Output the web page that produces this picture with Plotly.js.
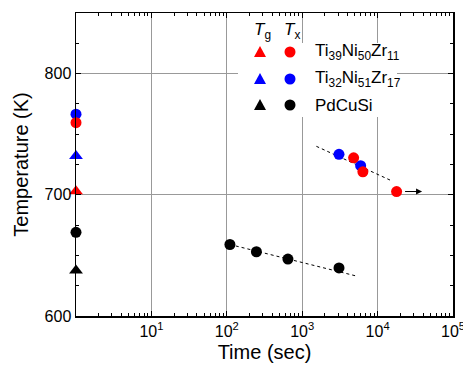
<!DOCTYPE html>
<html>
<head>
<meta charset="utf-8">
<script src="https://cdn.plot.ly/plotly-3.0.1.min.js"></script>
<style>html,body{margin:0;padding:0;background:#fff;}#chart{width:463px;height:368px;}</style>
</head>
<body>
<div id="chart"></div>
<script>
// ---- data ----
var tgTime = [1];
var ti39Tg = [703];
var ti32Tg = [732];
var pdTg = [637.5];

var ti39TxTime = [1, 4810, 6380, 17860];
var ti39Tx = [759.5, 730.5, 719, 702.7];
var ti32TxTime = [1, 3076, 5960];
var ti32Tx = [766.5, 733.4, 724];
var pdTxTime = [1, 110, 247, 647, 3076];
var pdTx = [669, 659, 653, 647, 639.7];

var tiFitTime = [1542, 15180];
var tiFitTemp = [740, 711.7];
var pdFitTime = [110, 5220];
var pdFitTemp = [659, 633];

var arrowFrom = [22100, 702.7];
var arrowTo = [38900, 702.7];

var xTickVals = [10, 100, 1000, 10000, 100000];
var xTickText = ['10<sup>1</sup>', '10<sup>2</sup>', '10<sup>3</sup>', '10<sup>4</sup>', '10<sup>5</sup>'];
var xMinorVals = [2,3,4,5,6,7,8,9, 20,30,40,50,60,70,80,90, 200,300,400,500,600,700,800,900,
  2000,3000,4000,5000,6000,7000,8000,9000, 20000,30000,40000,50000,60000,70000,80000,90000];
var yTickVals = [600, 700, 800];
var yMinorVals = [625, 650, 675, 725, 750, 775, 825];
var legendLabels = ['Ti<sub>39</sub>Ni<sub>50</sub>Zr<sub>11</sub>', 'Ti<sub>32</sub>Ni<sub>51</sub>Zr<sub>17</sub>', 'PdCuSi'];
var colors = ['#ff0000', '#0000ff', '#000000'];

var FONT = 'Liberation Sans, Arial, sans-serif';
var MS = 11;

function pts(x, y, sym, col) {
  return {x: x, y: y, mode: 'markers', type: 'scatter', cliponaxis: false, showlegend: false,
    marker: {symbol: sym, size: sym === 'triangle-up' ? MS + 1 : MS, color: col, line: {width: 0}}};
}
function fit(x, y) {
  return {x: x, y: y, mode: 'lines', type: 'scatter', showlegend: false,
    line: {color: '#000', width: 1, dash: 'dot'}};
}

var traces = [
  fit(tiFitTime, tiFitTemp),
  fit(pdFitTime, pdFitTemp),
  pts(tgTime, ti39Tg, 'triangle-up', colors[0]),
  pts(tgTime, ti32Tg, 'triangle-up', colors[1]),
  pts(tgTime, pdTg, 'triangle-up', colors[2]),
  pts(pdTxTime, pdTx, 'circle', colors[2]),
  pts(ti32TxTime, ti32Tx, 'circle', colors[1]),
  pts(ti39TxTime, ti39Tx, 'circle', colors[0])
];

// plot area in pixels: x 76..453, y 13..316
var L = 76, R = 10, T = 13, B = 52, W = 463, H = 368;
var pw = W - L - R, ph = H - T - B;
function px(x) { return (x - L) / pw; }
function py(y) { return (H - B - y) / ph; }

var shapes = [
  {type: 'rect', xref: 'paper', yref: 'paper', x0: px(238), x1: px(397), y0: py(117), y1: py(43),
   fillcolor: '#fff', line: {width: 0}, layer: 'above'}
];
var annotations = [
  {xref: 'paper', yref: 'paper', x: px(262), y: py(31), text: '<i>T</i><sub>g</sub>', showarrow: false,
   font: {family: FONT, size: 17, color: '#000'}, xanchor: 'center', yanchor: 'middle'},
  {xref: 'paper', yref: 'paper', x: px(292), y: py(31), text: '<i>T</i><sub>x</sub>', showarrow: false,
   font: {family: FONT, size: 17, color: '#000'}, xanchor: 'center', yanchor: 'middle'},
  {x: Math.log10(arrowTo[0]), y: arrowTo[1], ax: Math.log10(arrowFrom[0]), ay: arrowFrom[1],
   xref: 'x', yref: 'y', axref: 'x', ayref: 'y', showarrow: true, arrowhead: 2, arrowsize: 1.2,
   arrowwidth: 1, arrowcolor: '#000', text: ''}
];
var rowsY = [52, 79, 105];
for (var i = 0; i < 3; i++) {
  var ax = px(260), cx = px(290), yy = py(rowsY[i]);
  shapes.push({type: 'path', xref: 'paper', yref: 'paper', xsizemode: 'pixel', ysizemode: 'pixel',
    xanchor: ax, yanchor: yy, path: 'M-6,-5 L6,-5 L0,6 Z', fillcolor: colors[i], line: {width: 0}, layer: 'above'});
  shapes.push({type: 'circle', xref: 'paper', yref: 'paper', xsizemode: 'pixel', ysizemode: 'pixel',
    xanchor: cx, yanchor: yy, x0: -5.5, x1: 5.5, y0: -5.5, y1: 5.5, fillcolor: colors[i], line: {width: 0}, layer: 'above'});
  annotations.push({xref: 'paper', yref: 'paper', x: px(313), y: yy, text: legendLabels[i], showarrow: false,
    xanchor: 'left', yanchor: 'middle', font: {family: FONT, size: 17, color: '#000'}});
}

var layout = {
  width: W, height: H,
  margin: {l: L, r: R, t: T, b: B, pad: 0},
  paper_bgcolor: '#fff', plot_bgcolor: '#fff',
  font: {family: FONT, size: 16, color: '#000'},
  showlegend: false,
  xaxis: {
    type: 'log', range: [0, 5], tickmode: 'array', tickvals: xTickVals, ticktext: xTickText,
    ticks: 'inside', ticklen: 5, tickwidth: 1, tickcolor: '#000', ticklabeloverflow: 'allow',
    showline: true, linecolor: '#000', linewidth: 1.5, mirror: 'ticks',
    showgrid: true, gridcolor: '#999', gridwidth: 1, zeroline: false,
    tickfont: {family: FONT, size: 16, color: '#000'},
    minor: {tickmode: 'array', tickvals: xMinorVals, ticks: 'inside', ticklen: 3, tickwidth: 1, tickcolor: '#000', showgrid: false},
    title: {text: 'Time (sec)', font: {family: FONT, size: 20, color: '#000'}, standoff: 6}
  },
  yaxis: {
    range: [600, 850], tickmode: 'array', tickvals: yTickVals,
    ticks: 'inside', ticklen: 5, tickwidth: 1, tickcolor: '#000',
    showline: true, linecolor: '#000', linewidth: 1.5, mirror: 'ticks',
    showgrid: true, gridcolor: '#999', gridwidth: 1, zeroline: false,
    tickfont: {family: FONT, size: 16, color: '#000'},
    minor: {tickmode: 'array', tickvals: yMinorVals, ticks: 'inside', ticklen: 3, tickwidth: 1, tickcolor: '#000', showgrid: false},
    title: {text: 'Temperature (K)', font: {family: FONT, size: 20, color: '#000'}, standoff: 10}
  },
  shapes: shapes,
  annotations: annotations
};

Plotly.newPlot('chart', traces, layout, {displayModeBar: false, staticPlot: true});
</script>
</body>
</html>
